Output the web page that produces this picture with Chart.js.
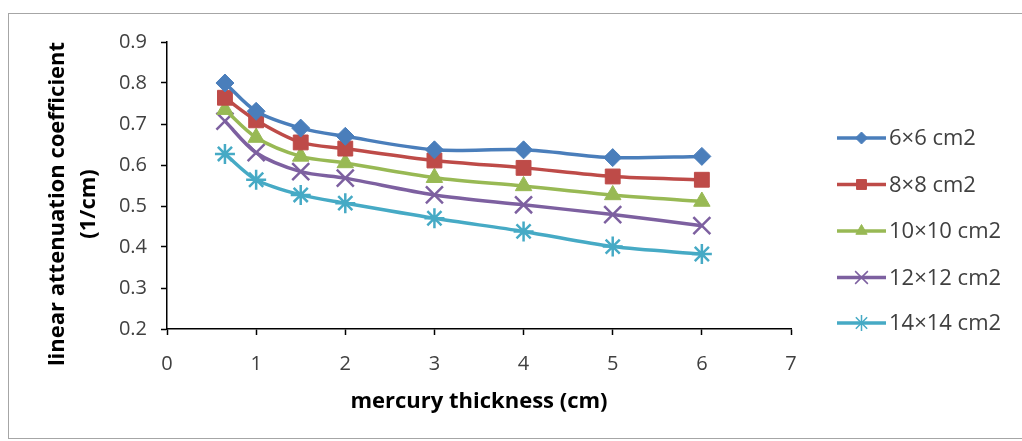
<!DOCTYPE html>
<html>
<head>
<meta charset="utf-8">
<script src="https://cdn.jsdelivr.net/npm/chart.js@4/dist/chart.umd.min.js"></script>
<style>
  html, body { margin: 0; padding: 0; background: #fff; }
  #wrap { position: relative; width: 1022px; height: 441px; overflow: hidden; }
  #frame { position: absolute; left: 8px; top: 13px; width: 1100px; height: 424px; border: 1px solid #a6a6a6; }
  canvas { position: absolute; left: 0; top: 0; }
</style>
</head>
<body>
<div id="wrap">
  <div id="frame"></div>
  <canvas id="myChartLine" width="1022" height="441"></canvas>
</div>
<script>
// mercury thickness (cm)
const thickness = [0.65, 1, 1.5, 2, 3, 4, 5, 6];

const field6 = [0.80, 0.731, 0.69, 0.67, 0.637, 0.637, 0.618, 0.621];
const field8 = [0.764, 0.709, 0.655, 0.64, 0.611, 0.593, 0.572, 0.564];
const field10 = [0.735, 0.667, 0.621, 0.605, 0.569, 0.549, 0.527, 0.511];
const field12 = [0.707, 0.63, 0.584, 0.568, 0.527, 0.503, 0.479, 0.452];
const field14 = [0.627, 0.564, 0.527, 0.507, 0.47, 0.438, 0.401, 0.383];

const seriesNames = ["6×6 cm2", "8×8 cm2", "10×10 cm2", "12×12 cm2", "14×14 cm2"];
const yTicks = [0.2, 0.3, 0.4, 0.5, 0.6, 0.7, 0.8, 0.9];
const xTicks = [0, 1, 2, 3, 4, 5, 6, 7];

const colors = ["#4a7ebb", "#be4b48", "#98b954", "#7d60a0", "#46aac5"];
const markers = ["rectRot", "rect", "triangle", "crossRot", "star"];
const markerSize = [9, 10.5, 9.5, 12, 10];
const legendSize = [6, 7, 6.5, 9, 8];

function pts(vals) {
    return thickness.map((t, i) => ({ x: t, y: vals[i] }));
}

const allSeries = [field6, field8, field10, field12, field14];

const datasets = allSeries.map((vals, i) => ({
    label: seriesNames[i],
    data: pts(vals),
    borderColor: colors[i],
    backgroundColor: colors[i],
    borderWidth: 3.5,
    pointStyle: markers[i],
    pointRadius: markerSize[i],
    pointBorderWidth: (i >= 3) ? 2.5 : 1,
    pointBorderColor: colors[i],
    pointBackgroundColor: colors[i],
    tension: 0.3,
    fill: false
}));

// axis titles and the line+marker legend, drawn like Excel does
const extras = {
    id: 'extras',
    afterDraw(chart) {
        const ctx = chart.ctx;
        ctx.save();
        ctx.fillStyle = '#000';
        ctx.textAlign = 'center';
        ctx.textBaseline = 'middle';
        ctx.font = 'bold 22px "Open Sans"';
        ctx.fillText('mercury thickness (cm)', 479, 402);

        ctx.translate(58, 204);
        ctx.rotate(-Math.PI / 2);
        ctx.fillText('linear attenuation coefficient', 0, 0);
        ctx.fillText('(1/cm)', 0, 31);
        ctx.restore();

        // legend
        ctx.save();
        const legY = [138, 184.5, 231, 277.5, 323];
        datasets.forEach((ds, i) => {
            const y = legY[i];
            ctx.strokeStyle = colors[i];
            ctx.lineWidth = 3.5;
            ctx.beginPath();
            ctx.moveTo(837, y);
            ctx.lineTo(886, y);
            ctx.stroke();
            ctx.fillStyle = colors[i];
            ctx.lineWidth = (i >= 3) ? 1.5 : 1;
            Chart.helpers.drawPoint(ctx, { pointStyle: markers[i], radius: legendSize[i], rotation: 0, borderWidth: ctx.lineWidth }, 861.5, y);
            ctx.fillStyle = '#404040';
            ctx.font = '22px "Open Sans"';
            ctx.textAlign = 'left';
            ctx.textBaseline = 'middle';
            ctx.fillText(ds.label, 889, y + 1);
        });
        ctx.restore();
    }
};

var ctx = document.getElementById('myChartLine').getContext('2d');

grafico = new Chart(ctx, {
    type: 'line',
    data: { datasets: datasets },
    plugins: [extras],
    options: {
        responsive: false,
        animation: false,
        layout: { padding: { left: 0, right: 231, top: 42, bottom: 0 } },
        plugins: {
            legend: { display: false },
            tooltip: { enabled: false }
        },
        scales: {
            x: {
                type: 'linear',
                min: 0,
                max: 7,
                afterFit: (s) => { s.height = 112; },
                afterBuildTicks: (s) => { s.ticks = xTicks.map(v => ({ value: v })); },
                grid: { drawOnChartArea: false, tickLength: 6, tickColor: '#000', tickWidth: 1.5 },
                border: { display: true, color: '#000', width: 1.5 },
                ticks: {
                    color: '#404040',
                    padding: 17,
                    font: { family: '"Open Sans"', size: 20 },
                    callback: (v) => String(v)
                }
            },
            y: {
                min: 0.2,
                max: 0.9,
                afterFit: (s) => { s.width = 167; },
                afterBuildTicks: (s) => { s.ticks = yTicks.map(v => ({ value: v })); },
                grid: { drawOnChartArea: false, tickLength: 6, tickColor: '#000', tickWidth: 1.5 },
                border: { display: true, color: '#000', width: 1.5 },
                ticks: {
                    color: '#404040',
                    padding: 14,
                    font: { family: '"Open Sans"', size: 20 },
                    callback: (v) => v.toFixed(1)
                }
            }
        }
    }
});
</script>
</body>
</html>
